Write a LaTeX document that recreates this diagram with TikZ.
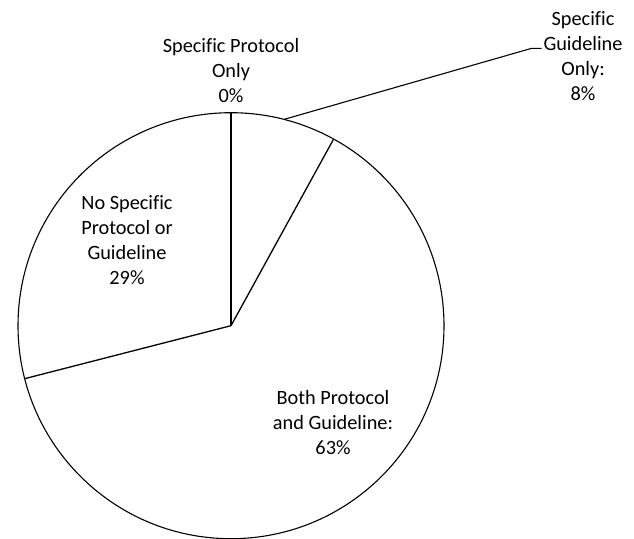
\documentclass[tikz,border=0pt]{standalone}
\usepackage{fontspec}
\setmainfont[Ligatures=NoCommon]{Carlito}
\usetikzlibrary{calc}
\begin{document}
\begin{tikzpicture}[x=1pt,y=-1pt,
  lbl/.style={align=center,font=\fontsize{20.3}{25}\selectfont,inner sep=0pt},
  wedge/.style={line width=1.3pt},
  rim/.style={line width=1.1pt},
  leader/.style={line width=1.1pt}]
\useasboundingbox (0,0) rectangle (634,538);
\coordinate (c) at (231,325.7);
\draw[rim] (c) circle [radius=213pt];
\draw[wedge] (c) -- ($(c)+(90:213pt)$);
\draw[wedge] (c) -- ($(c)+(61.2:213pt)$);
\draw[wedge] (c) -- ($(c)+(-165.6:213pt)$);
\node[lbl] (sp) at (231,71) {Specific Protocol\\Only\\0\%};
\node[lbl] (sg) at (583,56) {Specific\\Guideline\\Only:\\8\%};
\node[lbl] (ns) at (127,240) {No Specific\\Protocol or\\Guideline\\29\%};
\node[lbl] (bp) at (333,423) {Both Protocol\\and Guideline:\\63\%};
\coordinate (lp) at ($(c)+(75.6:213pt)$);
\coordinate (bend) at (531.7,48.3);
\coordinate (tip) at (541.5,48.3);
\draw[leader] (lp) -- (bend) -- (tip);
\end{tikzpicture}
\end{document}
